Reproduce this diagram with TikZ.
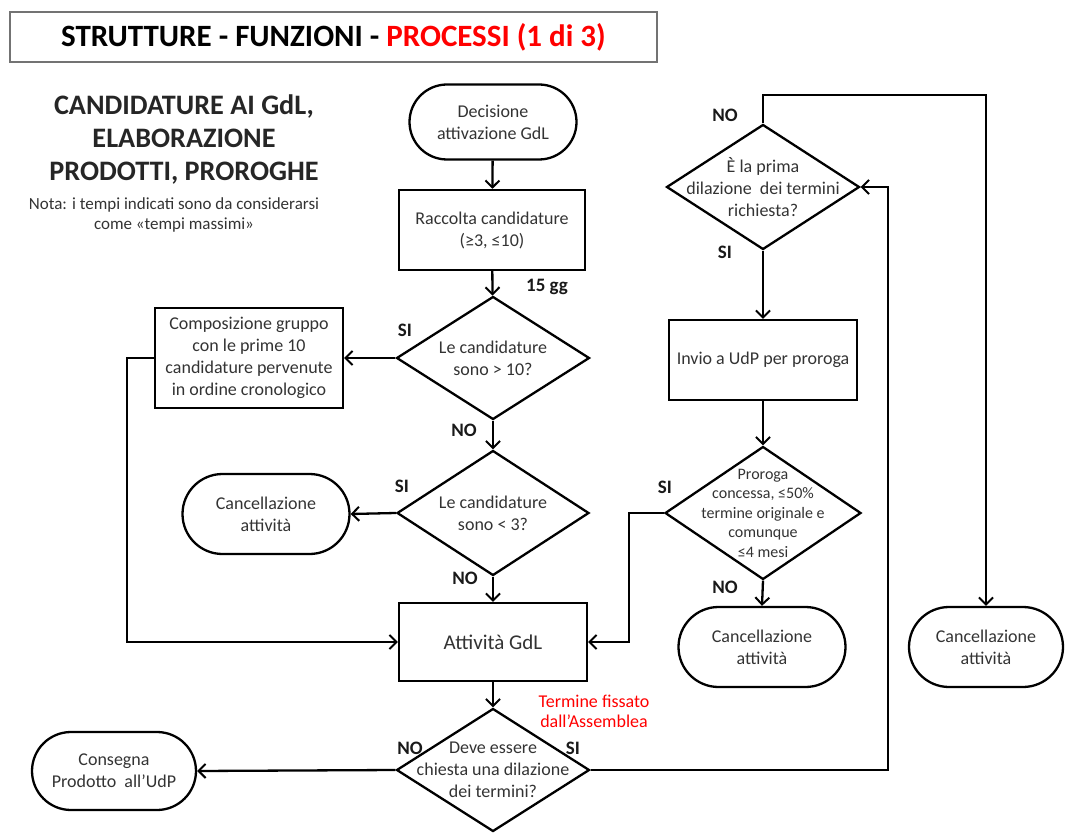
\documentclass[tikz,border=0pt]{standalone}
\usepackage{fontspec}
\setmainfont{Carlito}
\usetikzlibrary{shapes.geometric,shapes.misc,arrows.meta}
\begin{document}
\begin{tikzpicture}[x=1pt,y=-1pt,
  line width=2.3pt,
  every node/.style={font=\fontsize{18}{22}\selectfont, text=black!80, align=center},
  proc/.style={draw, rectangle, inner sep=0pt},
  term/.style={draw, rounded rectangle, inner sep=0pt},
  dec/.style={draw, diamond, inner sep=0pt},
  lab/.style={font=\bfseries\fontsize{19}{22}\selectfont, text=black!90},
  arr/.style={-{Straight Barb[length=7pt,width=14pt,line width=2pt]}},
]
\useasboundingbox (0,0) rectangle (1065,834);

% title and headings
\node[draw=black!55, line width=1.2pt, minimum width=647pt, minimum height=50pt, inner sep=0pt,
      font=\bfseries\fontsize{31}{34}\selectfont, text=black] (title) at (333.5,37)
  {STRUTTURE - FUNZIONI - \textcolor{red}{PROCESSI (1 di 3)}};
\node[font=\bfseries\fontsize{28.2}{33}\selectfont, text=black!85] (hdr) at (184,140)
  {CANDIDATURE AI GdL,\\ELABORAZIONE\\PRODOTTI, PROROGHE};
\node[font=\fontsize{17}{20}\selectfont] (nota) at (174,215)
  {Nota: i tempi indicati sono da considerarsi\\come «tempi massimi»};

% main column
\node[term, minimum width=167pt, minimum height=75pt] (dec0) at (493,122) {Decisione\\attivazione GdL};
\node[proc, minimum width=186pt, minimum height=80pt] (racc) at (492,230) {Raccolta candidature\\(≥3, ≤10)};
\node[dec, minimum width=193pt, minimum height=123pt] (d1) at (493,358) {};
\node (d1t) at (d1) {Le candidature\\sono > 10?};
\node[proc, minimum width=188pt, minimum height=100pt] (comp) at (249,358)
  {Composizione gruppo\\con le prime 10\\candidature pervenute\\in ordine cronologico};
\node[dec, minimum width=192pt, minimum height=125pt] (d2) at (493,513) {};
\node (d2t) at (d2) {Le candidature\\sono < 3?};
\node[term, minimum width=167pt, minimum height=80pt] (canc1) at (266,514) {Cancellazione\\attività};
\node[proc, minimum width=188pt, minimum height=78pt, font=\fontsize{21}{25}\selectfont] (att) at (493,642) {Attività GdL};
\node[dec, minimum width=193pt, minimum height=123pt] (d3) at (493,770) {};
\node (d3t) at (d3) {Deve essere\\chiesta una dilazione\\dei termini?};
\node[term, minimum width=164pt, minimum height=78pt] (cons) at (114,771) {Consegna\\Prodotto\ \ all’UdP};

% right column
\node[dec, minimum width=193pt, minimum height=125pt] (d4) at (763,187) {};
\node (d4t) at (d4) {È la prima\\dilazione\ \ dei termini\\richiesta?};
\node[proc, minimum width=188pt, minimum height=80pt] (invio) at (763,360) {Invio a UdP per proroga};
\node[dec, minimum width=196pt, minimum height=133pt] (d5) at (763,513) {};
\node[font=\fontsize{16}{19.5}\selectfont] (d5t) at (d5) {Proroga\\concessa, ≤50\%\\termine originale e\\comunque\\≤4 mesi};
\node[term, minimum width=167pt, minimum height=80pt] (canc2) at (762,647) {Cancellazione\\attività};
\node[term, minimum width=154pt, minimum height=80pt] (canc3) at (986,647) {Cancellazione\\attività};

\coordinate (fb) at (888,187);
\coordinate (topc) at (986,95);

% connectors
\draw[arr] (dec0) -- (racc);
\draw[arr] (racc) -- (d1);
\draw[arr] (d1.west) -- (comp.east);
\draw[arr] (d1.south) -- (d2.north);
\draw[arr] (d2.west) -- (canc1.east);
\draw[arr] (d2.south) -- (att.north);
\draw[arr] (comp.west) -- ++(-27,0) |- (att.west);
\draw[arr] (att) -- (d3);
\draw[arr] (d3.west) -- (cons.east);
\draw[arr] (d3.east) -| (fb) -- (d4.east);
\draw[arr] (d4.north) |- (topc) -- (canc3.north);
\draw[arr] (d4.south) -- (invio.north);
\draw[arr] (invio.south) -- (d5.north);
\draw[arr] (d5.south) -- (canc2.north);
\draw[arr] (d5.west) -- ++(-35,0) |- (att.east);

% labels
\node[lab] (l15) at (547,287) {15 gg};
\node[lab] (s1) at (405,330) {SI};
\node[lab] (n1) at (464,430) {NO};
\node[lab] (s2) at (402,486) {SI};
\node[lab] (n2) at (465,578) {NO};
\node[lab] (n3) at (410,748) {NO};
\node[lab] (s3) at (573,748) {SI};
\node[lab] (n4) at (725,115) {NO};
\node[lab] (s4) at (725,252) {SI};
\node[lab] (s5) at (665,487) {SI};
\node[lab] (n5) at (725,587) {NO};
\node[text=red, font=\fontsize{18}{20}\selectfont] (term) at (594,711) {Termine fissato\\dall’Assemblea};
\end{tikzpicture}
\end{document}
